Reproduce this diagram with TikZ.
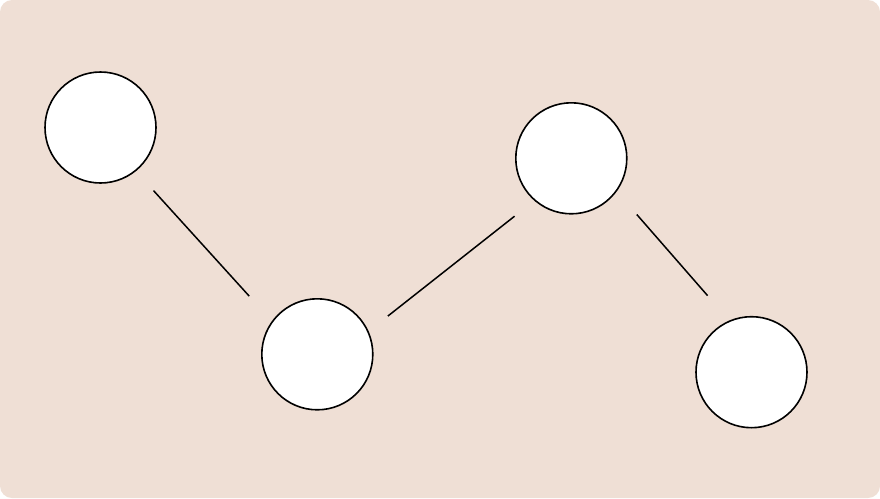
\documentclass[tikz,border=0pt]{standalone}
\definecolor{bgbeige}{HTML}{EFDFD5}
\begin{document}
\begin{tikzpicture}[x=1pt,y=-1pt,
  dot/.style={circle,draw=black,fill=white,line width=1.6pt,minimum size=111pt,inner sep=0pt,outer sep=0pt},
  link/.style={line width=1.5pt,draw=black}]
\useasboundingbox (0,0) rectangle (880,498);
\fill[bgbeige,rounded corners=12pt] (0,0) rectangle (880,498);
\node[dot] (c1) at (100.5,127.5) {};
\node[dot] (c2) at (317.3,354.3) {};
\node[dot] (c3) at (571.3,158.3) {};
\node[dot] (c4) at (751.5,372.2) {};
\draw[link,shorten <=27pt,shorten >=34.5pt] (c1.-51.7) -- (c2.144.9);
\draw[link,shorten <=25.3pt,shorten >=25.9pt] (c2.24.3) -- (c3.229.7);
\draw[link,shorten <=31.3pt,shorten >=33.8pt] (c3.-36) -- (c4.113.5);
\end{tikzpicture}
\end{document}
